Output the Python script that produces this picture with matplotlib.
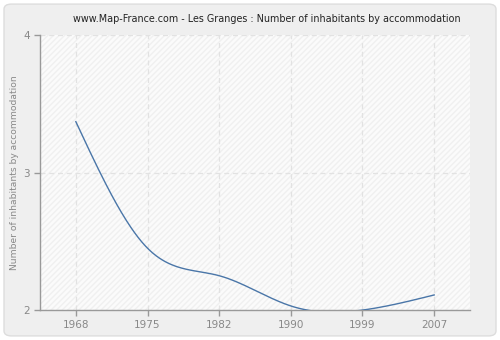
import matplotlib
matplotlib.use("Agg")
import matplotlib.pyplot as plt
from matplotlib.patches import FancyBboxPatch
import numpy as np

years = ['1968', '1975', '1982', '1990', '1999', '2007']
inhabitants = [3.37, 2.45, 2.25, 2.03, 2.0, 2.11]


def natural_spline(x, y, n=300):
    # plain natural cubic spline, no scipy available
    x = np.asarray(x, float)
    y = np.asarray(y, float)
    k = len(x)
    h = np.diff(x)
    A = np.zeros((k, k))
    b = np.zeros(k)
    A[0, 0] = A[-1, -1] = 1
    for i in range(1, k - 1):
        A[i, i - 1] = h[i - 1]
        A[i, i] = 2 * (h[i - 1] + h[i])
        A[i, i + 1] = h[i]
        b[i] = 3 * ((y[i + 1] - y[i]) / h[i] - (y[i] - y[i - 1]) / h[i - 1])
    c = np.linalg.solve(A, b)
    xs = np.linspace(x[0], x[-1], n)
    ys = np.empty_like(xs)
    for j, t in enumerate(xs):
        i = min(np.searchsorted(x, t, side='right') - 1, k - 2)
        d = t - x[i]
        bi = (y[i + 1] - y[i]) / h[i] - h[i] * (2 * c[i] + c[i + 1]) / 3
        di = (c[i + 1] - c[i]) / (3 * h[i])
        ys[j] = y[i] + bi * d + c[i] * d ** 2 + di * d ** 3
    return xs, ys


fig = plt.figure(figsize=(5.0, 3.4), dpi=100)
fig.patch.set_facecolor('white')
bg = FancyBboxPatch((0.008, 0.012), 0.984, 0.976, boxstyle='round,pad=0,rounding_size=0.015',
                    transform=fig.transFigure, facecolor='#efefef', edgecolor='#dddddd',
                    linewidth=1, zorder=-10)
fig.patches.append(bg)

ax = fig.add_axes([0.08, 0.088, 0.86, 0.809])
ax.set_facecolor('#fbfbfb')
ax.patch.set_hatch('//////')
ax.patch.set_edgecolor('#f0f0f0')
ax.patch.set_linewidth(0)

pos = np.arange(len(years))
xs, ys = natural_spline(pos, inhabitants)
ax.plot(xs, ys, color='#4a76a8', linewidth=1.0, zorder=3)

ax.set_xlim(-0.5, len(years) - 0.5)
ax.set_ylim(2, 4)
ax.set_xticks(pos)
ax.set_xticklabels(years)
ax.set_yticks([2, 3, 4])

for spine in ['top', 'right']:
    ax.spines[spine].set_visible(False)
for spine in ['left', 'bottom']:
    ax.spines[spine].set_color('#999999')
    ax.spines[spine].set_linewidth(1)

ax.tick_params(axis='both', colors='#999999', labelcolor='#888888', labelsize=7.5,
               length=4, width=1, direction='out')
ax.grid(True, color='#e2e2e2', linestyle=(0, (4, 3)), linewidth=0.9)
ax.set_axisbelow(True)

ax.set_ylabel('Number of inhabitants by accommodation', color='#888888', fontsize=6.6,
              labelpad=3)
fig.text(0.534, 0.945, 'www.Map-France.com - Les Granges : Number of inhabitants by accommodation',
         fontsize=6.9, color='#222222', ha='center', va='center')

fig.savefig('out.png', dpi=100)
